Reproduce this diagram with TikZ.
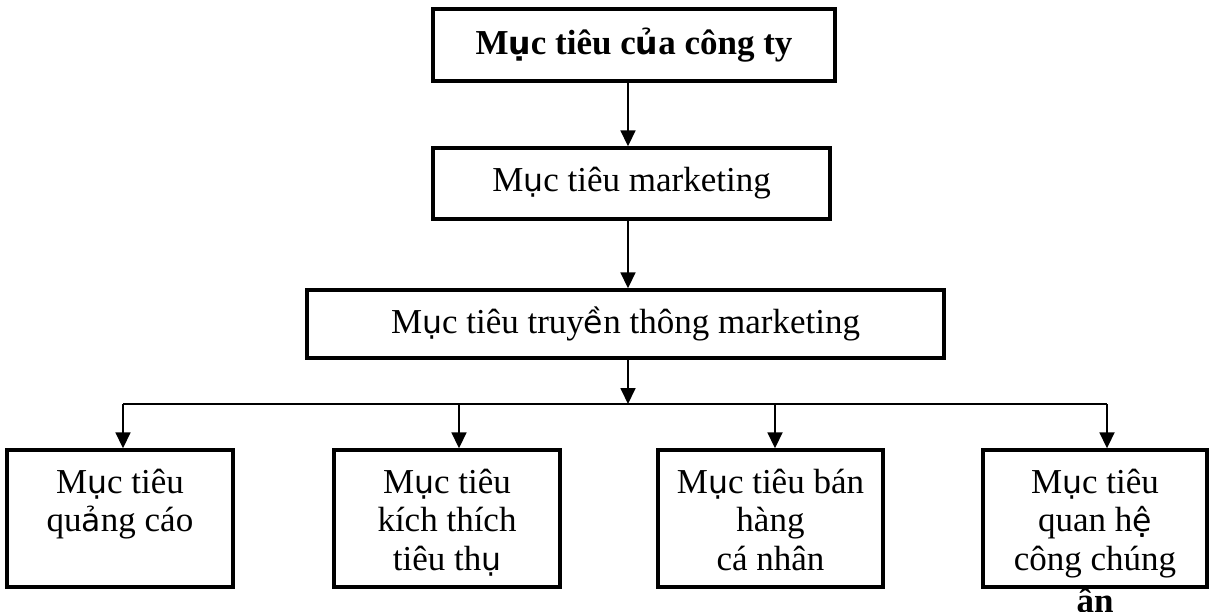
\documentclass[tikz,border=0pt]{standalone}
\usepackage{fontspec}
\setmainfont{Liberation Serif}
\newfontfamily\fallbackfont{DejaVu Sans}[Scale=0.9]
\newcommand\fb[1]{{\fallbackfont #1}}
\usetikzlibrary{arrows.meta}

\begin{document}
\begin{tikzpicture}[x=1pt,y=-1pt,
  box/.style={draw, line width=3.4pt, inner sep=0pt},
  link/.style={line width=1.8pt},
  arr/.style={link, -{Triangle[width=15pt,length=16pt]}},
  big/.style={font=\fontsize{35}{38.5}\selectfont},
  txt/.style={big, inner sep=0pt, anchor=base},
]
\useasboundingbox (0,0) rectangle (1211,611);

% upper chain of goals
\node[box, minimum width=402pt, minimum height=72pt,
      font=\bfseries\fontsize{35}{38.5}\selectfont] (goal) at (634,45)
      {M\fb{ụ}c tiêu c\fb{ủ}a công ty};
\node[box, big, minimum width=397pt, minimum height=71pt] (mkt) at (631.5,183.5)
      {M\fb{ụ}c tiêu marketing};
\node[box, big, minimum width=637pt, minimum height=68pt] (comm) at (625.5,324)
      {M\fb{ụ}c tiêu truy\fb{ề}n thông marketing};

% lower row of boxes
\node[box, minimum width=226pt, minimum height=137pt] (b1) at (120,518.5) {};
\node[box, minimum width=226pt, minimum height=137pt] (b2) at (447,518.5) {};
\node[box, minimum width=225pt, minimum height=137pt] (b3) at (770.5,518.5) {};
\node[box, minimum width=224pt, minimum height=137pt] (b4) at (1095,518.5) {};

\node[txt] (t1) at (b1.center |- 0,493)
  {\begin{tabular}[t]{@{}c@{}}M\fb{ụ}c tiêu\\qu\fb{ả}ng cáo\end{tabular}};
\node[txt] (t2) at (b2.center |- 0,493)
  {\begin{tabular}[t]{@{}c@{}}M\fb{ụ}c tiêu\\kích thích\\tiêu th\fb{ụ}\end{tabular}};
\node[txt] (t3) at (b3.center |- 0,493)
  {\begin{tabular}[t]{@{}c@{}}M\fb{ụ}c tiêu bán\\hàng\\cá nhân\end{tabular}};
\node[txt] (t4) at (b4.center |- 0,493)
  {\begin{tabular}[t]{@{}c@{}}M\fb{ụ}c tiêu\\quan h\fb{ệ}\\công chúng\\[4pt]{\bfseries ân}\end{tabular}};

% connectors
\coordinate (spine) at (628,0);
\coordinate (bus) at (628,404);
\coordinate (a1) at (123,404);
\coordinate (a2) at (459,404);
\coordinate (a3) at (775,404);
\coordinate (a4) at (1107,404);

\draw[arr] (goal.south -| spine) -- (mkt.north -| spine);
\draw[arr] (mkt.south -| spine) -- (comm.north -| spine);
\draw[arr] (comm.south -| spine) -- (bus);
\draw[link] (a1) -- (a4);
\draw[arr] (a1) -- (b1.north -| a1);
\draw[arr] (a2) -- (b2.north -| a2);
\draw[arr] (a3) -- (b3.north -| a3);
\draw[arr] (a4) -- (b4.north -| a4);
\end{tikzpicture}
\end{document}
